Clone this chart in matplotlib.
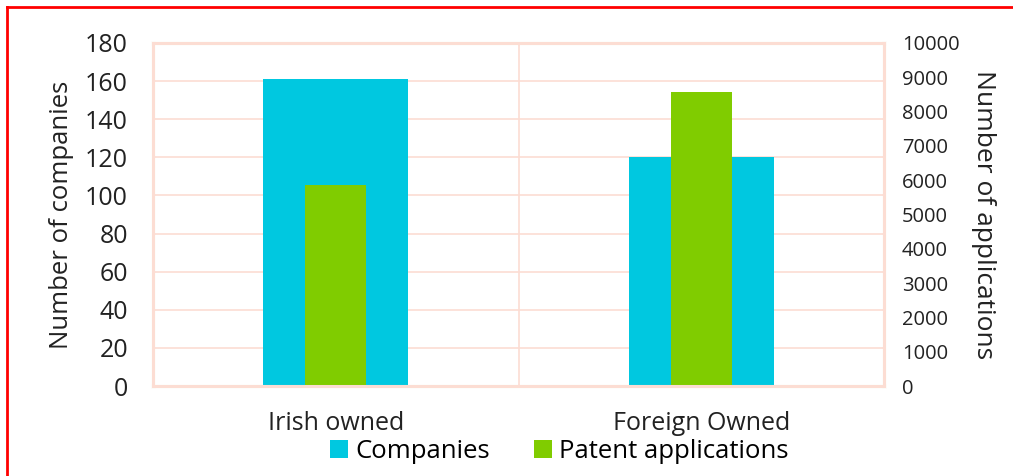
import numpy as np
import matplotlib
matplotlib.use("Agg")
import matplotlib.pyplot as plt
from matplotlib.lines import Line2D

categories = ["Irish owned", "Foreign Owned"]
companies = [161, 120]
patent_applications = [5860, 8560]

left_ticks = np.arange(0, 181, 20)
right_ticks = np.arange(0, 10001, 1000)

cyan = "#00C8E0"
green = "#80CC00"
pink = "#FCDDD3"

plt.rcParams["font.family"] = ["Open Sans", "DejaVu Sans"]

fig = plt.figure(figsize=(10.13, 4.76), dpi=100)
ax = fig.add_axes([0.151, 0.189, 0.7217, 0.7207])
ax2 = ax.twinx()

x = np.arange(len(categories))
ax.bar(x, companies, width=0.397, color=cyan, zorder=2, label="Companies")
ax2.bar(x, patent_applications, width=0.167, color=green, zorder=2, label="Patent applications")

ax.set_xlim(-0.5, len(categories) - 0.5)
ax.set_ylim(0, 180)
ax2.set_ylim(0, 10000)
ax.set_yticks(left_ticks)
ax2.set_yticks(right_ticks)
ax.set_xticks(x)
ax.set_xticklabels(categories, fontsize=18, color="#222222")
ax.set_xticks(x[:-1] + 0.5, minor=True)

ax.grid(axis="y", color=pink, linewidth=1.2, zorder=0)
ax.grid(axis="x", which="minor", color=pink, linewidth=1.2, zorder=0)
ax.set_axisbelow(True)

ax.tick_params(axis="y", length=0, pad=18, labelsize=18, labelcolor="#222222")
ax.tick_params(axis="x", which="both", length=0, pad=18)
ax2.tick_params(axis="y", length=0, pad=13, labelsize=14.5, labelcolor="#222222")

for a in (ax, ax2):
    for s in a.spines.values():
        s.set_color(pink)
        s.set_linewidth(2.2)

ax.set_ylabel("Number of companies", fontsize=18.5, color="#222222", labelpad=8)
ax2.set_ylabel("Number of applications", fontsize=19, color="#222222", rotation=270,
               labelpad=26)

h1, l1 = ax.get_legend_handles_labels()
h2, l2 = ax2.get_legend_handles_labels()
fig.legend(h1 + h2, l1 + l2, loc="center", bbox_to_anchor=(0.552, 0.052), ncol=2,
           frameon=False, fontsize=18.5, handlelength=0.7, handleheight=0.7,
           handletextpad=0.3, columnspacing=1.7)

# red frame around the picture, only top and left visible
fig.add_artist(Line2D([0.0068, 1.0], [0.985, 0.985], color="red", linewidth=2,
                      transform=fig.transFigure))
fig.add_artist(Line2D([0.0068, 0.0068], [0.0, 0.985], color="red", linewidth=2,
                      transform=fig.transFigure))

fig.savefig("out.png", dpi=100)
